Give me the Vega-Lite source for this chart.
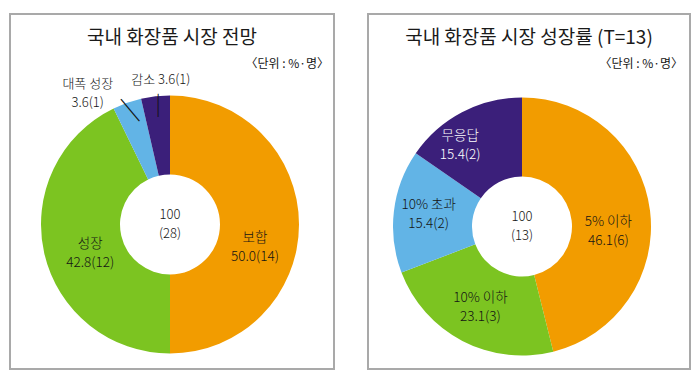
{
  "$schema": "https://vega.github.io/schema/vega-lite/v6.json",
  "background": "white",
  "padding": {"left": 9, "top": 13, "right": 5, "bottom": 5},
  "spacing": 32,
  "config": {
    "view": {"stroke": "#a9a9a9", "strokeWidth": 2},
    "font": "Noto Sans CJK KR",
    "title": {"fontSize": 19, "font": "Noto Sans CJK KR", "fontWeight": 400, "color": "#1a1a1a", "offset": -34, "anchor": "middle"},
    "text": {"font": "Noto Sans CJK KR", "fontSize": 13, "fontWeight": 300, "color": "#141414", "lineBreak": "\n", "lineHeight": 19, "baseline": "middle", "align": "center", "clip": true}
  },
  "datasets": {
    "outlook": [
      {"cat": "보합", "pct": 50.0, "n": 14, "ord": 1, "label": "보합\n50.0(14)"},
      {"cat": "성장", "pct": 42.8, "n": 12, "ord": 2, "label": "성장\n42.8(12)"},
      {"cat": "대폭 성장", "pct": 3.6, "n": 1, "ord": 3, "label": "대폭 성장\n3.6(1)"},
      {"cat": "감소", "pct": 3.6, "n": 1, "ord": 4, "label": "감소 3.6(1)"}
    ],
    "growth": [
      {"cat": "5% 이하", "pct": 46.1, "n": 6, "ord": 1, "label": "5% 이하\n46.1(6)"},
      {"cat": "10% 이하", "pct": 23.1, "n": 3, "ord": 2, "label": "10% 이하\n23.1(3)"},
      {"cat": "10% 초과", "pct": 15.4, "n": 2, "ord": 3, "label": "10% 초과\n15.4(2)"},
      {"cat": "무응답", "pct": 15.4, "n": 2, "ord": 4, "label": "무응답\n15.4(2)"}
    ],
    "center1": [{"total": 100, "n": 28, "label": "100\n(28)"}],
    "center2": [{"total": 100, "n": 13, "label": "100\n(13)"}],
    "unit": [{"unit": "〈단위 : %·명〉"}]
  },
  "hconcat": [
    {
      "width": 324,
      "height": 355,
      "title": {"text": "국내 화장품 시장 전망"},
      "layer": [
        {
          "data": {"name": "outlook"},
          "mark": {"type": "arc", "radius": 129, "innerRadius": 50, "xOffset": -2, "yOffset": 33},
          "encoding": {
            "theta": {"field": "pct", "type": "quantitative", "stack": true},
            "order": {"field": "ord", "type": "quantitative"},
            "color": {"field": "ord", "type": "nominal", "scale": {"domain": [1, 2, 3, 4], "range": ["#f29c00", "#7cc421", "#62b4e6", "#3b1f7a"]}, "legend": null}
          }
        },
        {
          "data": {"name": "outlook"},
          "mark": {"type": "text", "radius": 86, "xOffset": -3, "yOffset": 46, "fontSize": 13.5, "clip": true},
          "encoding": {
            "theta": {"field": "pct", "type": "quantitative", "stack": true},
            "order": {"field": "ord", "type": "quantitative"},
            "detail": {"field": "ord", "type": "nominal"},
            "text": {"condition": {"test": "datum.ord == 1", "field": "label"}, "value": ""}
          }
        },
        {
          "data": {"name": "outlook"},
          "mark": {"type": "text", "radius": 86, "xOffset": 2, "yOffset": 33, "fontSize": 13.5, "clip": true},
          "encoding": {
            "theta": {"field": "pct", "type": "quantitative", "stack": true},
            "order": {"field": "ord", "type": "quantitative"},
            "detail": {"field": "ord", "type": "nominal"},
            "text": {"condition": {"test": "datum.ord == 2", "field": "label"}, "value": ""}
          }
        },
        {
          "data": {"name": "outlook"},
          "mark": {"type": "text", "radius": 145, "xOffset": -36, "yOffset": 29, "clip": true},
          "encoding": {
            "theta": {"field": "pct", "type": "quantitative", "stack": true},
            "order": {"field": "ord", "type": "quantitative"},
            "detail": {"field": "ord", "type": "nominal"},
            "text": {"condition": {"test": "datum.ord == 3", "field": "label"}, "value": ""}
          }
        },
        {
          "data": {"name": "outlook"},
          "mark": {"type": "text", "radius": 143, "xOffset": 5, "yOffset": 31, "clip": true},
          "encoding": {
            "theta": {"field": "pct", "type": "quantitative", "stack": true},
            "order": {"field": "ord", "type": "quantitative"},
            "detail": {"field": "ord", "type": "nominal"},
            "text": {"condition": {"test": "datum.ord == 4", "field": "label"}, "value": ""}
          }
        },
        {
          "data": {"name": "outlook"},
          "mark": {"type": "text", "radius": 122, "xOffset": 0, "yOffset": 35, "fontSize": 21, "fontWeight": 300, "color": "#111111", "clip": true},
          "encoding": {
            "theta": {"field": "pct", "type": "quantitative", "stack": true},
            "order": {"field": "ord", "type": "quantitative"},
            "detail": {"field": "ord", "type": "nominal"},
            "text": {"condition": {"test": "datum.ord == 4", "value": "|"}, "value": ""}
          }
        },
        {
          "data": {"name": "outlook"},
          "mark": {"type": "text", "radius": 124, "xOffset": -1, "yOffset": 35, "fontSize": 26, "fontWeight": 300, "angle": -40, "color": "#111111", "clip": true},
          "encoding": {
            "theta": {"field": "pct", "type": "quantitative", "stack": true},
            "order": {"field": "ord", "type": "quantitative"},
            "detail": {"field": "ord", "type": "nominal"},
            "text": {"condition": {"test": "datum.ord == 3", "value": "|"}, "value": ""}
          }
        },
        {
          "data": {"name": "center1"},
          "mark": {"type": "text", "xOffset": -2, "yOffset": 23, "fontSize": 13, "clip": true},
          "encoding": {"text": {"field": "label", "type": "nominal"}}
        },
        {
          "data": {"name": "unit"},
          "mark": {"type": "text", "align": "right", "dx": -5, "fontSize": 12, "fontWeight": 400, "clip": true},
          "encoding": {"text": {"field": "unit", "type": "nominal"}, "x": {"value": "width"}, "y": {"value": 50}}
        }
      ]
    },
    {
      "width": 322,
      "height": 355,
      "title": {"text": "국내 화장품 시장 성장률 (T=13)"},
      "layer": [
        {
          "data": {"name": "growth"},
          "mark": {"type": "arc", "radius": 129, "innerRadius": 50, "xOffset": -7, "yOffset": 35},
          "encoding": {
            "theta": {"field": "pct", "type": "quantitative", "stack": true},
            "order": {"field": "ord", "type": "quantitative"},
            "color": {"field": "ord", "type": "nominal", "scale": {"domain": [1, 2, 3, 4], "range": ["#f29c00", "#7cc421", "#62b4e6", "#3b1f7a"]}, "legend": null}
          }
        },
        {
          "data": {"name": "growth"},
          "mark": {"type": "text", "radius": 90, "xOffset": -10, "yOffset": 41, "fontSize": 13.5, "clip": true},
          "encoding": {
            "theta": {"field": "pct", "type": "quantitative", "stack": true},
            "order": {"field": "ord", "type": "quantitative"},
            "detail": {"field": "ord", "type": "nominal"},
            "text": {"condition": {"test": "datum.ord == 1", "field": "label"}, "value": ""}
          }
        },
        {
          "data": {"name": "growth"},
          "mark": {"type": "text", "radius": 90, "xOffset": -7, "yOffset": 27, "fontSize": 13.5, "clip": true},
          "encoding": {
            "theta": {"field": "pct", "type": "quantitative", "stack": true},
            "order": {"field": "ord", "type": "quantitative"},
            "detail": {"field": "ord", "type": "nominal"},
            "text": {"condition": {"test": "datum.ord == 2", "field": "label"}, "value": ""}
          }
        },
        {
          "data": {"name": "growth"},
          "mark": {"type": "text", "radius": 90, "xOffset": -11, "yOffset": 24, "fontSize": 13.5, "clip": true},
          "encoding": {
            "theta": {"field": "pct", "type": "quantitative", "stack": true},
            "order": {"field": "ord", "type": "quantitative"},
            "detail": {"field": "ord", "type": "nominal"},
            "text": {"condition": {"test": "datum.ord == 3", "field": "label"}, "value": ""}
          }
        },
        {
          "data": {"name": "growth"},
          "mark": {"type": "text", "radius": 92, "xOffset": -26, "yOffset": 26, "fontSize": 13.5, "color": "#ffffff", "clip": true},
          "encoding": {
            "theta": {"field": "pct", "type": "quantitative", "stack": true},
            "order": {"field": "ord", "type": "quantitative"},
            "detail": {"field": "ord", "type": "nominal"},
            "text": {"condition": {"test": "datum.ord == 4", "field": "label"}, "value": ""}
          }
        },
        {
          "data": {"name": "center2"},
          "mark": {"type": "text", "xOffset": -7, "yOffset": 25, "fontSize": 13, "clip": true},
          "encoding": {"text": {"field": "label", "type": "nominal"}}
        },
        {
          "data": {"name": "unit"},
          "mark": {"type": "text", "align": "right", "dx": -7, "fontSize": 12, "fontWeight": 400, "clip": true},
          "encoding": {"text": {"field": "unit", "type": "nominal"}, "x": {"value": "width"}, "y": {"value": 50}}
        }
      ]
    }
  ]
}
